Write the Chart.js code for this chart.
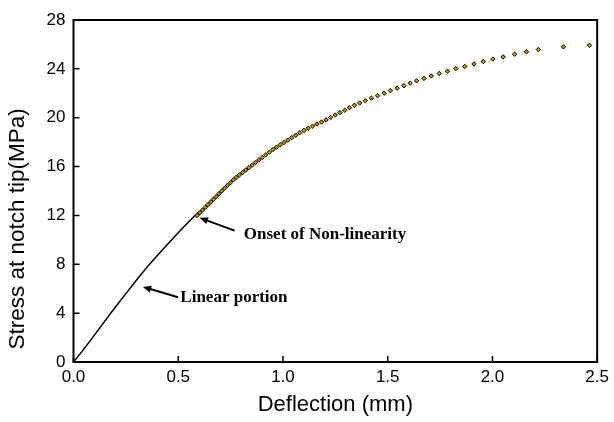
<!DOCTYPE html>
<html>
<head>
<meta charset="utf-8">
<script src="https://cdn.jsdelivr.net/npm/chart.js@4/dist/chart.umd.min.js"></script>
<style>
  html, body { margin: 0; padding: 0; background: #fff; }
  #wrap { width: 614px; height: 422px; }
</style>
</head>
<body>
<div id="wrap"><canvas id="myChart" width="614" height="422"></canvas></div>
<script>
// solid part of the curve (deflection mm, stress MPa)
const lineDefl = [0, 0.04, 0.08, 0.13, 0.18, 0.25, 0.30, 0.36, 0.41, 0.46, 0.52, 0.58, 0.60];
const lineStress = [0, 0.85, 1.75, 2.9, 4.05, 5.6, 6.7, 7.95, 8.9, 9.85, 10.95, 12.0, 12.3];

// dotted part after the onset of non-linearity
const dotDefl = [
  0.590, 0.603, 0.616, 0.629, 0.642, 0.655, 0.668, 0.681, 0.694, 0.707,
  0.721, 0.735, 0.749, 0.763, 0.777, 0.792, 0.807, 0.822, 0.837, 0.853,
  0.869, 0.885, 0.901, 0.918, 0.935, 0.952, 0.969, 0.987, 1.005, 1.023,
  1.042, 1.061, 1.080, 1.100, 1.120, 1.141, 1.162, 1.184, 1.206, 1.228,
  1.250, 1.272, 1.295, 1.318, 1.341, 1.366, 1.393, 1.422, 1.452, 1.483,
  1.513, 1.545, 1.577, 1.607, 1.638, 1.673, 1.708, 1.746, 1.785, 1.825,
  1.868, 1.912, 1.956, 2.002, 2.051, 2.106, 2.162, 2.219, 2.339, 2.463,
];
const dotStress = [
  12.00, 12.22, 12.44, 12.66, 12.88, 13.10, 13.32, 13.54, 13.77, 13.99,
  14.23, 14.46, 14.68, 14.91, 15.12, 15.32, 15.52, 15.72, 15.91, 16.12,
  16.33, 16.54, 16.74, 16.96, 17.18, 17.40, 17.59, 17.79, 17.97, 18.16,
  18.37, 18.57, 18.77, 18.96, 19.14, 19.31, 19.48, 19.65, 19.82, 20.02,
  20.22, 20.42, 20.61, 20.82, 21.02, 21.20, 21.39, 21.60, 21.80, 22.01,
  22.22, 22.42, 22.62, 22.83, 23.02, 23.22, 23.42, 23.62, 23.81, 24.02,
  24.20, 24.40, 24.60, 24.80, 24.98, 25.20, 25.40, 25.58, 25.80, 25.93,
];

const xTicks = [0, 0.5, 1.0, 1.5, 2.0, 2.5];
const yTicks = [0, 4, 8, 12, 16, 20, 24, 28];

const notes = [
  { text: "Linear portion", tip: [0.331, 6.15], tail: [0.499, 5.3], at: [0.51, 5.27] },
  { text: "Onset of Non-linearity", tip: [0.602, 11.8], tail: [0.769, 10.76], at: [0.813, 10.4] },
];

const sans = "'Liberation Sans', Arial, sans-serif";

// frame, inward ticks, y title, arrows and labels
const decor = {
  id: "decor",
  afterDraw(chart) {
    const { ctx, chartArea: a } = chart;
    const xs = chart.scales.x, ys = chart.scales.y;
    ctx.save();
    ctx.strokeStyle = "#000";
    ctx.lineWidth = 1.5;
    ctx.beginPath();
    xTicks.forEach((t) => {
      const px = xs.getPixelForValue(t);
      ctx.moveTo(px, a.bottom);
      ctx.lineTo(px, a.bottom - 6);
    });
    yTicks.forEach((t) => {
      const py = ys.getPixelForValue(t);
      ctx.moveTo(a.left, py);
      ctx.lineTo(a.left + 6, py);
    });
    ctx.stroke();
    ctx.lineWidth = 2;
    ctx.strokeRect(a.left, a.top, a.right - a.left, a.bottom - a.top);

    // y axis title, sits a bit below the plot centre in the original
    ctx.save();
    ctx.translate(24, ys.getPixelForValue(10.9));
    ctx.rotate(-Math.PI / 2);
    ctx.font = "22.5px " + sans;
    ctx.fillStyle = "#000";
    ctx.textAlign = "center";
    ctx.textBaseline = "alphabetic";
    ctx.fillText("Stress at notch tip(MPa)", 0, 0);
    ctx.restore();

    notes.forEach((n) => {
      const x1 = xs.getPixelForValue(n.tail[0]), y1 = ys.getPixelForValue(n.tail[1]);
      const x2 = xs.getPixelForValue(n.tip[0]), y2 = ys.getPixelForValue(n.tip[1]);
      const ang = Math.atan2(y2 - y1, x2 - x1);
      ctx.lineWidth = 2;
      ctx.beginPath();
      ctx.moveTo(x1, y1);
      ctx.lineTo(x2 - 6 * Math.cos(ang), y2 - 6 * Math.sin(ang));
      ctx.stroke();
      ctx.beginPath();
      ctx.moveTo(x2, y2);
      ctx.lineTo(x2 - 9 * Math.cos(ang - 0.4), y2 - 9 * Math.sin(ang - 0.4));
      ctx.lineTo(x2 - 9 * Math.cos(ang + 0.4), y2 - 9 * Math.sin(ang + 0.4));
      ctx.closePath();
      ctx.fillStyle = "#000";
      ctx.fill();
      ctx.font = "bold 17px 'Liberation Serif', 'Times New Roman', serif";
      ctx.textBaseline = "middle";
      ctx.textAlign = "left";
      ctx.fillText(n.text, xs.getPixelForValue(n.at[0]), ys.getPixelForValue(n.at[1]));
    });
    ctx.restore();
  },
};

const config = {
  type: "scatter",
  data: {
    datasets: [
      {
        label: "dots",
        data: dotDefl.map((d, i) => ({ x: d, y: dotStress[i] })),
        showLine: false,
        pointStyle: "rectRot",
        pointRadius: 2.2,
        pointBackgroundColor: "#c09a00",
        pointBorderColor: "#000",
        pointBorderWidth: 1,
      },
      {
        label: "line",
        data: lineDefl.map((d, i) => ({ x: d, y: lineStress[i] })),
        showLine: true,
        borderColor: "#000",
        borderWidth: 1.5,
        pointRadius: 0,
        tension: 0,
      },
    ],
  },
  options: {
    responsive: false,
    animation: false,
    layout: { padding: { top: 20, right: 14, left: 0, bottom: 0 } },
    plugins: { legend: { display: false }, tooltip: { enabled: false } },
    scales: {
      x: {
        type: "linear",
        min: 0,
        max: 2.5,
        afterBuildTicks: (s) => { s.ticks = xTicks.map((v) => ({ value: v })); },
        afterFit: (s) => { s.height = 60; },
        grid: { display: false, drawTicks: false },
        border: { display: false },
        ticks: {
          padding: 5,
          color: "#000",
          font: { family: sans, size: 17 },
          callback: (v) => Number(v).toFixed(1),
        },
        title: {
          display: true,
          text: "Deflection (mm)",
          color: "#000",
          font: { family: sans, size: 22 },
          padding: { top: 0, bottom: 4 },
        },
      },
      y: {
        type: "linear",
        min: 0,
        max: 28,
        afterBuildTicks: (s) => { s.ticks = yTicks.map((v) => ({ value: v })); },
        afterFit: (s) => { s.width = 73.5; },
        grid: { display: false, drawTicks: false },
        border: { display: false },
        ticks: {
          padding: 8,
          color: "#000",
          font: { family: sans, size: 17 },
        },
      },
    },
  },
  plugins: [decor],
};
const myChart = new Chart(document.getElementById("myChart"), config);
</script>
</body>
</html>
